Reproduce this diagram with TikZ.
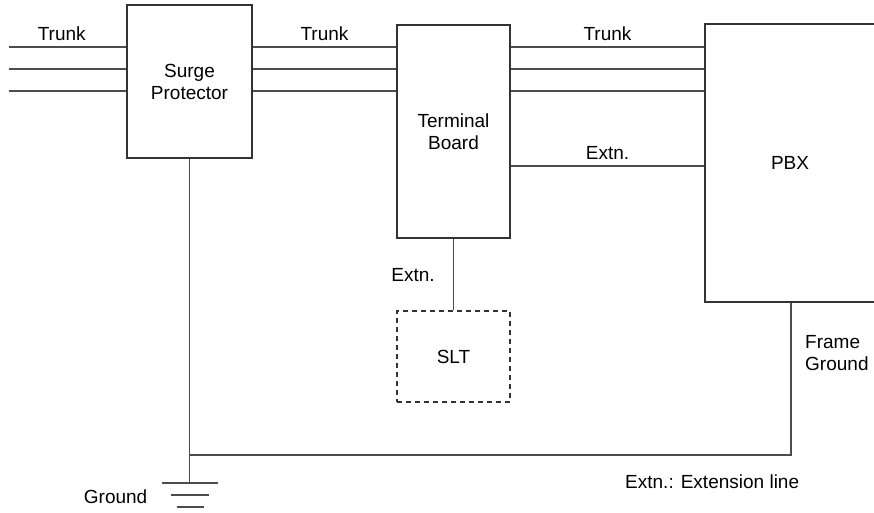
\documentclass[tikz,border=0pt]{standalone}
\usepackage{fontspec}
\setmainfont{Liberation Sans}
\usepackage{tikz}
\usetikzlibrary{calc, positioning}

\begin{document}
\begin{tikzpicture}[x=1pt, y=-1pt, font=\fontsize{19}{22}\selectfont]
    \tikzstyle{unit} = [rectangle, draw=black!80, line width=1.5pt, align=center, inner sep=0pt]
    \tikzstyle{wire} = [draw=black!70, line width=1.5pt]
    \tikzstyle{lbl} = [anchor=base, yshift=7pt, inner sep=0pt]

    \useasboundingbox (0,0) rectangle (874,512);

    % Equipment boxes
    \node [unit, minimum width=125pt, minimum height=153pt] (surge) at (189.5,81.5) {Surge\\Protector};
    \node [unit, minimum width=113pt, minimum height=213pt] (board) at (453.5,131.5) {Terminal\\Board};
    \node [unit, minimum width=170pt, minimum height=278pt] (pbx) at (790,163) {PBX};
    \node [unit, line width=1.2pt, dash pattern=on 5pt off 4pt, minimum width=113pt, minimum height=91pt] (slt) at (453.5,356.5) {SLT};

    % Trunk lines: outside -> Surge Protector -> Terminal Board -> PBX
    \foreach \y [count=\i] in {47,69,91} {
        \coordinate (in\i) at (9,\y);
        \draw [wire] (in\i) -- (in\i -| surge.west);
        \draw [wire] (in\i -| surge.east) -- (in\i -| board.west);
        \draw [wire] (in\i -| board.east) -- (in\i -| pbx.west);
    }
    \path (in1) -- node[lbl, pos=0.45] {Trunk} (in1 -| surge.west);
    \path (in1 -| surge.east) -- node[lbl] {Trunk} (in1 -| board.west);
    \path (in1 -| board.east) -- node[lbl] {Trunk} (in1 -| pbx.west);

    % Extension lines
    \coordinate (ext) at (600,166);
    \draw [wire] (ext -| board.east) -- node[lbl] {Extn.} (ext -| pbx.west);
    \draw [wire] (board.south) -- node[pos=0.6, anchor=base east, xshift=-18pt, inner sep=0pt] {Extn.} (slt.north);

    % Ground
    \coordinate (gnd) at (189.5,483);
    \draw [wire] (surge.south) -- (gnd);
    \draw [wire] ($(gnd)+(-28,0)$) -- ++(56,0);
    \draw [wire] ($(gnd)+(-19,12)$) -- ++(38,0);
    \draw [wire] ($(gnd)+(-13,24)$) -- ++(27,0);
    \node [anchor=base east, inner sep=0pt] (gndlbl) at ($(gnd)+(-42,20)$) {Ground};

    % Frame ground of the PBX
    \coordinate (fg) at (791,455);
    \draw [wire] (fg |- pbx.south) -- (fg) -- (fg -| gnd);
    \node [anchor=north west, align=left, inner sep=0pt] (fglbl) at (805,335) {Frame\\Ground};

    \node [anchor=base west, inner sep=0pt] (note) at (625,488) {Extn.: Extension line};
\end{tikzpicture}
\end{document}
